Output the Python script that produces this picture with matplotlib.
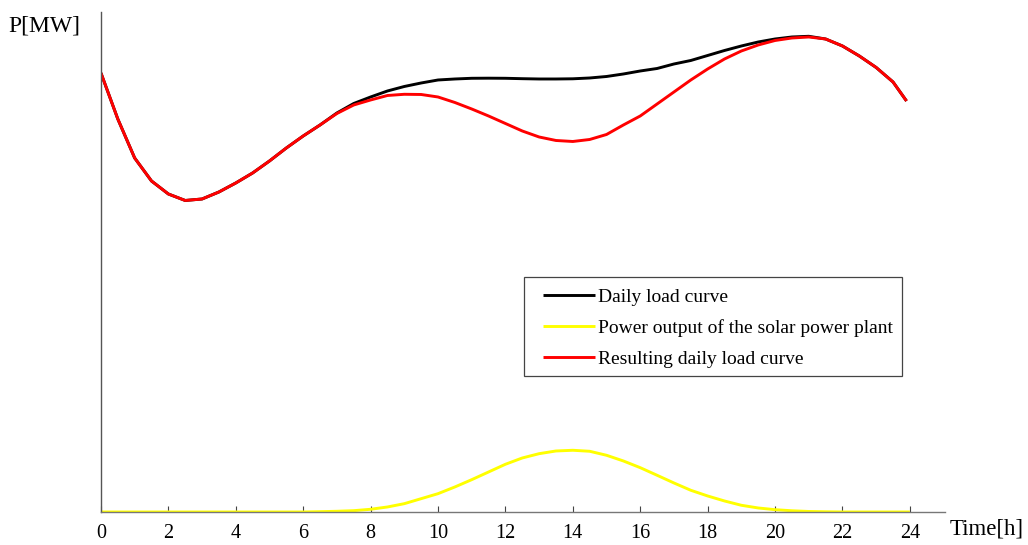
import matplotlib
matplotlib.use("Agg")
import matplotlib.pyplot as plt
from matplotlib.patches import Rectangle

plt.rcParams["font.family"] = ["Liberation Serif", "DejaVu Serif"]

# time axis for the load curves (half hour steps, curve ends just before 24 h)
hours_load = [h / 2 for h in range(48)] + [23.9]

# daily load curve (arbitrary MW units)
load = [439, 393, 354, 331, 318, 311.5, 313, 320, 329, 339, 351, 364, 376,
        387, 399, 408.5, 415, 421, 425.5, 429, 432, 433, 433.7, 433.8, 433.7,
        433.3, 433, 433, 433.2, 434, 435.5, 438, 441, 443.5, 448, 451.5,
        456.5, 461.5, 466, 470, 473, 475, 475.7, 473, 466, 456, 444.5, 430,
        411]

# resulting daily load curve (load minus solar output)
result = [439, 393, 354, 331, 318, 311.5, 313, 320, 329, 339, 351, 364, 376,
          387, 398.5, 407, 412, 416.5, 417.7, 417.5, 415, 409.5, 403, 396,
          388.5, 381, 375, 371.5, 370.5, 372.5, 377.5, 387, 396, 408, 420,
          432, 443, 453, 461, 467, 471.5, 474, 475, 473, 466, 456, 444.5, 430,
          411]

# solar power plant output
hours_solar = [h / 2 for h in range(49)]
solar = [0, 0, 0, 0, 0, 0, 0, 0, 0, 0, 0, 0, 0,
         0.3, 0.7, 1.3, 2.7, 5, 8.3, 13.3, 18.3, 25, 32.3, 40, 47.7, 54, 58.3,
         61, 61.7, 60.7, 56.7, 51, 44.3, 36.7, 29, 21.7, 16, 11, 6.7, 4, 2.3,
         1.2, 0.5, 0.2, 0, 0, 0, 0, 0]

xticks = list(range(0, 25, 2))

fig = plt.figure(figsize=(10.28, 5.45), dpi=100)
ax = fig.add_axes([0.0982, 0.0606, 0.821, 0.9174])

line_kw = dict(lw=2.1, solid_joinstyle="round", solid_capstyle="butt")
ax.plot(hours_load, load, color="black", label="Daily load curve", **line_kw)
ax.plot(hours_solar, solar, color="#ffff00",
        label="Power output of the solar power plant", **line_kw)
ax.plot(hours_load, result, color="#ff0000",
        label="Resulting daily load curve", **line_kw)

ax.set_xlim(0, 25.04)
ax.set_ylim(0, 500)
ax.set_xticks(xticks)
ax.set_yticks([])
ax.tick_params(axis="x", direction="in", length=4, width=0.8, color="#444444",
               labelsize=14.5, pad=9)

ax.spines["top"].set_visible(False)
ax.spines["right"].set_visible(False)
ax.spines["left"].set_color("#555555")
ax.spines["bottom"].set_color("#777777")
ax.spines["left"].set_linewidth(1)
ax.spines["bottom"].set_linewidth(1)

fig.text(0.008, 0.952, "P[MW]", fontsize=17, va="center", ha="left")
fig.text(0.924, 0.030, "Time[h]", fontsize=16.5, va="center", ha="left")

# legend without its own frame, frame drawn as a plain box around it
leg = ax.legend(loc="upper left", bbox_to_anchor=(0.5233, 0.447), fontsize=14,
                frameon=False, handlelength=2.7, handletextpad=0.15,
                labelspacing=0.68, borderpad=0, borderaxespad=0)
ax.add_patch(Rectangle((0.5012, 0.272), 0.4478, 0.198, transform=ax.transAxes,
                       fill=False, edgecolor="#444444", lw=0.9, zorder=5))

fig.savefig("out.png", dpi=100)
